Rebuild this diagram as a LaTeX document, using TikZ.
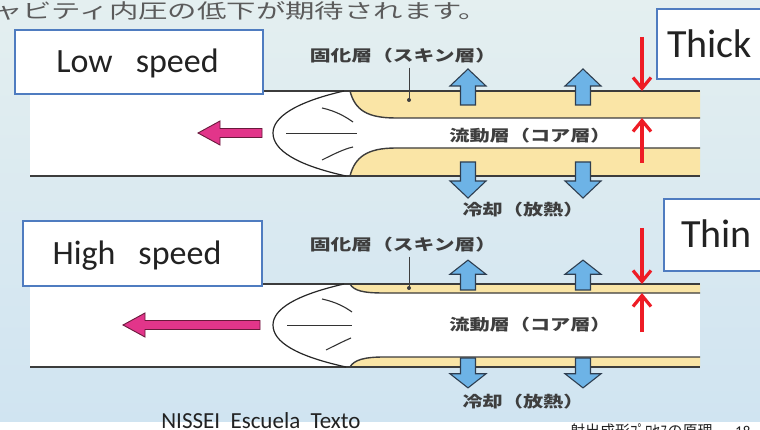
\documentclass[tikz,border=0pt]{standalone}
\usepackage{fontspec}
\usepackage{graphicx}
\setmainfont{Carlito}
\newfontfamily\jpfont{Noto Sans CJK JP}
\usetikzlibrary{arrows.meta}

\definecolor{bgtop}{HTML}{E4EFF0}
\definecolor{bgbot}{HTML}{D0E4F1}
\definecolor{skin}{HTML}{FAE5A6}
\definecolor{wall}{HTML}{3C3C3C}
\definecolor{cool}{HTML}{6DB3E6}
\definecolor{coolline}{HTML}{2E3E50}
\definecolor{flow}{HTML}{E2358A}
\definecolor{flowline}{HTML}{6A1A3C}
\definecolor{gauge}{HTML}{EE1C25}
\definecolor{frame}{HTML}{4F7CC0}
\definecolor{jptext}{HTML}{3E3E3E}
\definecolor{boxtext}{HTML}{222222}

\tikzset{
  wallline/.style={wall, line width=1.8pt},
  skinline/.style={wall, line width=1.4pt},
  frontline/.style={black!85, line width=1.2pt},
  streamline/.style={black!80, line width=1.1pt},
  leader/.style={jptext, line width=1pt},
  coolarrow/.style={fill=cool, draw=coolline, line width=1.1pt, line join=miter},
  flowarrow/.style={fill=flow, draw=flowline, line width=0.9pt, line join=miter},
  gaugearrow/.style={gauge, line width=3.2pt, -{Straight Barb[length=11pt,width=18pt]}},
  framebox/.style={draw=frame, line width=1.8pt, fill=white, inner sep=0pt},
  speedtext/.style={text=boxtext, font=\fontsize{34}{40}\selectfont, inner sep=0pt, anchor=base},
  sizetext/.style={text=boxtext, font=\fontsize{40}{46}\selectfont, inner sep=0pt, anchor=base west},
  jplabel/.style={text=jptext, font=\jpfont\bfseries\fontsize{15.5}{16}\selectfont, inner sep=0pt},
  pics/coolup/.style={code={
    \draw[coolarrow] (-7.5,0) -- (-7.5,-19) -- (-18,-19) -- (0,-36)
      -- (18,-19) -- (7.5,-19) -- (7.5,0) -- cycle;}},
  pics/flowleft/.style={code={
    \draw[flowarrow] (0,0) -- (22,-12) -- (22,-4.5) -- (#1,-4.5)
      -- (#1,4.5) -- (22,4.5) -- (22,12) -- cycle;}},
}

\begin{document}
\begin{tikzpicture}[x=1pt, y=-1pt]
\useasboundingbox (0,0) rectangle (760,430);
\clip (0,0) rectangle (760,430);

% slide background and footer strip
\shade[top color=bgtop, bottom color=bgbot] (0,0) rectangle (760,422);
\fill[white] (0,422) rectangle (760,430);

% heading line running off the left edge
\node[anchor=west, text=jptext!85, font=\jpfont\fontsize{20}{20}\selectfont, inner sep=0pt]
  (note) at (-7,11) {\scalebox{1.47}[1]{ャビティ内圧の低下が期待されます。}};

% ---------------- low speed channel ----------------
\fill[white] (30,91) rectangle (700,176);
\fill[skin] (350,91) .. controls (355,110) and (367,118) .. (396,118) -- (700,118) -- (700,91) -- cycle;
\fill[skin] (350,176) .. controls (355,157) and (367,148) .. (396,148) -- (700,148) -- (700,176) -- cycle;
\draw[skinline] (350,91) .. controls (355,110) and (367,118) .. (396,118) -- (700,118);
\draw[skinline] (350,176) .. controls (355,157) and (367,148) .. (396,148) -- (700,148);
\draw[wallline] (30,91) -- (700,91);
\draw[wallline] (30,176) -- (700,176);
\draw[frontline] (344,91) .. controls (296,102) and (273,117) .. (273,133)
  .. controls (273,150) and (296,165) .. (346,176);
\draw[streamline] (322,108) .. controls (336,111) and (346,117) .. (353,122);
\draw[streamline, line width=0.8pt] (286,133) -- (357,133);
\draw[streamline] (322,160) .. controls (334,154) and (344,149) .. (353,147);

\pic at (198,133) {flowleft=64};
\pic at (468,105) {coolup};
\pic at (583,105) {coolup};
\pic[rotate=180] at (468,162) {coolup};
\pic[rotate=180] at (583,162) {coolup};

\node[jplabel] (skinA) at (403,56) {\scalebox{1.34}[1]{固化層（スキン層）}};
\node[jplabel] (coreA) at (530,136) {\scalebox{1.3}[1]{流動層（コア層）}};
\node[jplabel] (coolA) at (523,210) {\scalebox{1.3}[1]{冷却（放熱）}};
\coordinate (dotA) at (409,100);
\draw[leader] (skinA.south -| dotA) ++(0,4) -- (dotA);
\fill[jptext] (dotA) circle (2pt);

\coordinate (thickTopStart) at (642,37);
\coordinate (thickTopEnd) at (642,91);
\coordinate (thickLowStart) at (642,163);
\coordinate (thickLowEnd) at (642,118);
\draw[gaugearrow] (thickTopStart) -- (thickTopEnd);
\draw[gaugearrow] (thickLowStart) -- (thickLowEnd);

\node[framebox, anchor=north west, minimum width=248pt, minimum height=64pt] (lowbox) at (14,29) {};
\node[speedtext] (lowtext) at (137.5,73) {Low~~~speed};
\node[framebox, anchor=north west, minimum width=120pt, minimum height=70pt] (thickbox) at (656,8) {};
\node[sizetext] (thicktext) at (667,58) {Thick};

% ---------------- high speed channel ----------------
\fill[white] (30,284) rectangle (700,367);
\fill[skin] (350,284) .. controls (354,291) and (364,293) .. (384,293) -- (700,293) -- (700,284) -- cycle;
\fill[skin] (350,367) .. controls (354,360) and (364,357) .. (384,357) -- (700,357) -- (700,367) -- cycle;
\draw[skinline] (350,284) .. controls (354,291) and (364,293) .. (384,293) -- (700,293);
\draw[skinline] (350,367) .. controls (354,360) and (364,357) .. (384,357) -- (700,357);
\draw[wallline] (30,284) -- (700,284);
\draw[wallline] (30,367) -- (700,367);
\draw[frontline] (344,284) .. controls (296,295) and (273,309) .. (273,325)
  .. controls (273,342) and (296,356) .. (346,367);
\draw[streamline] (322,299) .. controls (336,302) and (345,307) .. (352,312);
\draw[streamline, line width=0.8pt] (287,325) -- (352,325);
\draw[streamline] (326,350) .. controls (336,345) and (344,341) .. (351,338);

\pic at (123,325) {flowleft=137};
\pic[yscale=0.83] at (468,290) {coolup};
\pic[yscale=0.83] at (583,290) {coolup};
\pic[rotate=180, yscale=0.83] at (468,358) {coolup};
\pic[rotate=180, yscale=0.83] at (583,358) {coolup};

\node[jplabel] (skinB) at (403,245) {\scalebox{1.34}[1]{固化層（スキン層）}};
\node[jplabel] (coreB) at (530,325) {\scalebox{1.3}[1]{流動層（コア層）}};
\node[jplabel] (coolB) at (523,402) {\scalebox{1.3}[1]{冷却（放熱）}};
\coordinate (dotB) at (409,288);
\draw[leader] (skinB.south -| dotB) ++(0,4) -- (dotB);
\fill[jptext] (dotB) circle (2pt);

\coordinate (thinTopStart) at (642,228);
\coordinate (thinTopEnd) at (642,284);
\coordinate (thinLowStart) at (642,332);
\coordinate (thinLowEnd) at (642,293);
\draw[gaugearrow] (thinTopStart) -- (thinTopEnd);
\draw[gaugearrow] (thinLowStart) -- (thinLowEnd);

\node[framebox, anchor=north west, minimum width=239pt, minimum height=65pt] (highbox) at (22,220) {};
\node[speedtext] (hightext) at (137,265) {High~~~speed};
\node[framebox, anchor=north west, minimum width=110pt, minimum height=72pt] (thinbox) at (663,198) {};
\node[sizetext] (thintext) at (681,248) {Thin};

% ---------------- footer ----------------
\node[text=boxtext, font=\fontsize{23}{26}\selectfont, inner sep=0pt, anchor=base]
  (school) at (261,428) {NISSEI~~Escuela~~Texto};
\node[text=boxtext, font=\jpfont\fontsize{15}{16}\selectfont, inner sep=0pt, anchor=base west]
  (pagetitle) at (570,436) {射出成形ﾌﾟﾛｾｽの原理};
\node[text=boxtext, font=\fontsize{15}{16}\selectfont, inner sep=0pt, anchor=base west]
  (pagenum) at (735,436) {18};
\end{tikzpicture}
\end{document}
